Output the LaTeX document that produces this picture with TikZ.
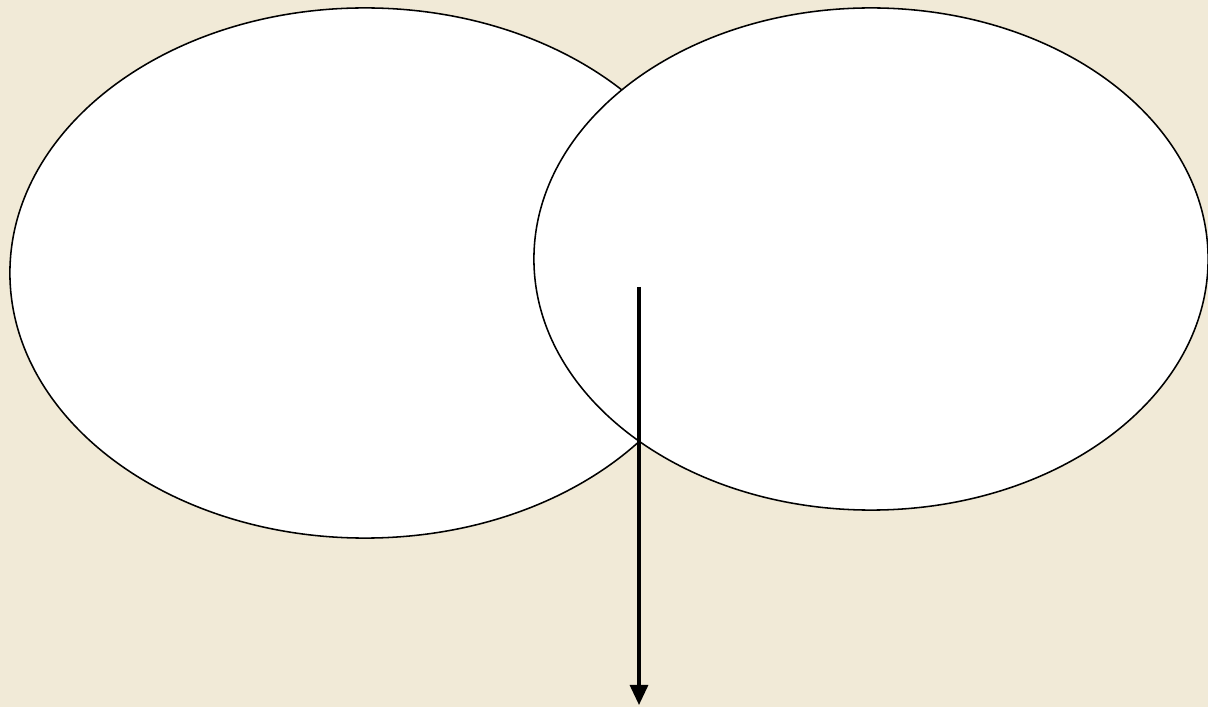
\documentclass[tikz,border=0pt]{standalone}
\usepackage{tikz}
\usetikzlibrary{arrows.meta,positioning,shapes.geometric}
\usepackage{xcolor}
\definecolor{PaperColor}{HTML}{F1EAD7}
\definecolor{LineColor}{HTML}{000000}

\begin{document}
\begin{tikzpicture}[x=0.025cm, y=-0.025cm,
    setbox/.style={ellipse, draw=LineColor, fill=white, line width=1.1pt,
                   inner sep=0pt, outer sep=0pt}]
        % paper background
        \fill[PaperColor] (0,0) rectangle (1208,707);
        \useasboundingbox (0,0) rectangle (1208,707);

        \node[setbox, minimum width=17.75cm, minimum height=13.25cm]
              (setA) at (365,273) {};
        \node[setbox, minimum width=16.85cm, minimum height=12.55cm]
              (setB) at (871,259) {};

        \coordinate (arrstart) at (639,287);
        \coordinate (arrend) at (639,705);
        \draw[-{Triangle[length=0.5cm, width=0.45cm]}, line width=2.2pt, LineColor]
          (arrstart) -- (arrend);
      \end{tikzpicture}
\end{document}
